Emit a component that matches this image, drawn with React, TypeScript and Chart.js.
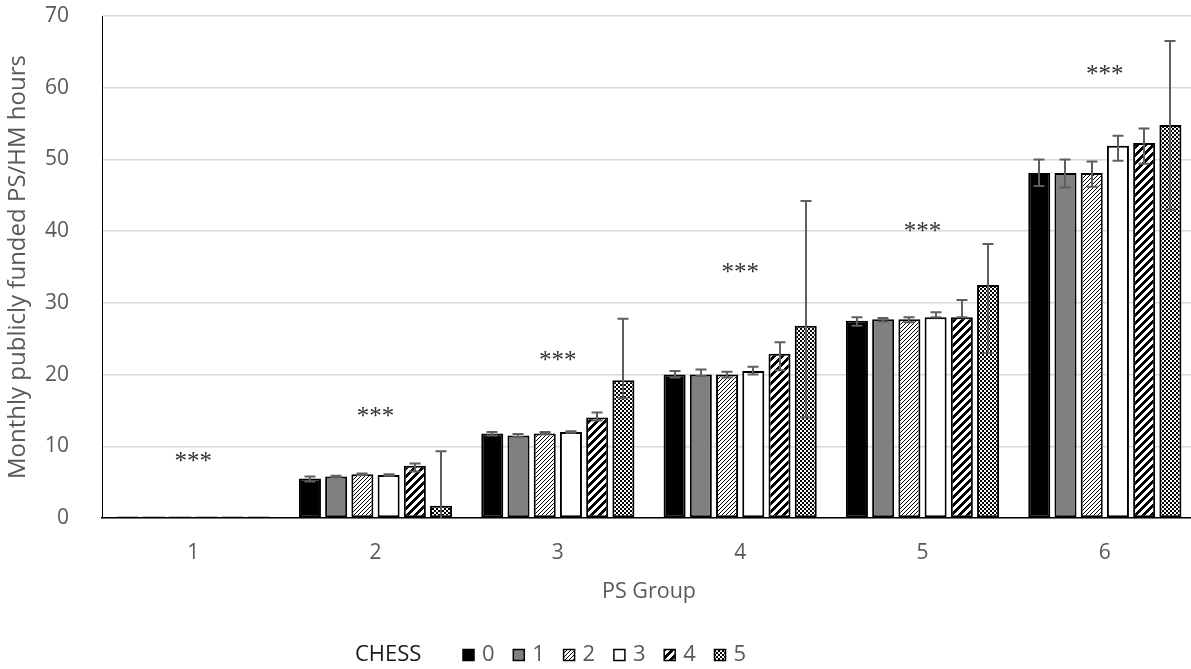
import { useEffect, useRef } from 'react';
import { Chart, registerables } from 'chart.js';

Chart.register(...registerables);

// PS groups on the x axis and CHESS levels as series
const psGroups = ['1', '2', '3', '4', '5', '6'];
const chessLevels = ['0', '1', '2', '3', '4', '5'];

// Mean monthly publicly funded PS/HM hours per CHESS level
const chess0 = [0.2, 5.5, 11.8, 20.0, 27.5, 48.1];
const chess1 = [0.2, 5.8, 11.5, 20.0, 27.7, 48.1];
const chess2 = [0.2, 6.1, 11.8, 20.0, 27.7, 48.1];
const chess3 = [0.2, 6.0, 12.0, 20.5, 28.0, 51.9];
const chess4 = [0.2, 7.3, 14.0, 22.9, 28.0, 52.3];
const chess5 = [0.2, 1.7, 19.2, 26.8, 32.5, 54.8];

// Upper / lower ends of the error bars (null = no bar)
const chess0Upper = [null, 5.8, 12.0, 20.5, 28.0, 50.0];
const chess0Lower = [null, 5.1, 11.5, 19.6, 26.8, 46.3];
const chess1Upper = [null, 5.9, 11.7, 20.7, 27.9, 50.0];
const chess1Lower = [null, 5.7, 11.3, 19.8, 27.4, 46.1];
const chess2Upper = [null, 6.2, 12.0, 20.4, 28.0, 49.7];
const chess2Lower = [null, 6.0, 11.7, 19.6, 27.3, 46.2];
const chess3Upper = [null, 6.1, 12.1, 21.1, 28.7, 53.3];
const chess3Lower = [null, 5.9, 11.9, 20.0, 28.0, 49.8];
const chess4Upper = [null, 7.6, 14.7, 24.5, 30.4, 54.3];
const chess4Lower = [null, 6.5, 13.6, 20.6, 28.0, 49.4];
const chess5Upper = [null, 9.3, 27.8, 44.2, 38.2, 66.5];
const chess5Lower = [null, -4.2, 16.7, 14.0, 23.0, 43.0];

// Significance markers above each group
const significance = ['***', '***', '***', '***', '***', '***'];
const significanceY = [8.3, 14.6, 22.4, 34.7, 40.5, 62.4];

const yTicksMax = 70;
const yTicksStep = 10;

const seriesValues = [chess0, chess1, chess2, chess3, chess4, chess5];
const seriesUpper = [chess0Upper, chess1Upper, chess2Upper, chess3Upper, chess4Upper, chess5Upper];
const seriesLower = [chess0Lower, chess1Lower, chess2Lower, chess3Lower, chess4Lower, chess5Lower];

const FONT = '"Open Sans", "Liberation Sans", sans-serif';
const TEXT = '#595959';

type Fill = string | CanvasPattern;

function pixelPattern(size: number, isDark: (x: number, y: number) => boolean): CanvasPattern | string {
  const c = document.createElement('canvas');
  c.width = size;
  c.height = size;
  const g = c.getContext('2d');
  if (!g) return '#ffffff';
  const img = g.createImageData(size, size);
  for (let y = 0; y < size; y++) {
    for (let x = 0; x < size; x++) {
      const v = isDark(x, y) ? 0 : 255;
      const k = (y * size + x) * 4;
      img.data[k] = v;
      img.data[k + 1] = v;
      img.data[k + 2] = v;
      img.data[k + 3] = 255;
    }
  }
  g.putImageData(img, 0, 0);
  return g.createPattern(c, 'repeat') || '#ffffff';
}

function makeFills(): Fill[] {
  return [
    '#000000',
    '#808080',
    pixelPattern(4, (x, y) => (x + y) % 4 === 0),
    '#ffffff',
    pixelPattern(8, (x, y) => (x + y) % 8 < 4),
    pixelPattern(4, (x, y) => (((x >> 1) + (y >> 1)) & 1) === 0),
  ];
}

const errorBarPlugin = {
  id: 'errorBars',
  afterDatasetsDraw(chart: any) {
    const { ctx, chartArea, scales } = chart;
    const y = scales.y;
    ctx.save();
    ctx.beginPath();
    ctx.rect(chartArea.left, chartArea.top, chartArea.right - chartArea.left, chartArea.bottom - chartArea.top);
    ctx.clip();
    ctx.strokeStyle = '#5f5f5f';
    ctx.lineWidth = 2;
    const cap = 5.5;
    chart.data.datasets.forEach((_: any, di: number) => {
      const meta = chart.getDatasetMeta(di);
      meta.data.forEach((bar: any, i: number) => {
        const hi = seriesUpper[di][i];
        const lo = seriesLower[di][i];
        if (hi == null || lo == null) return;
        const x = Math.round(bar.x);
        const yHi = y.getPixelForValue(hi);
        const yLo = y.getPixelForValue(lo);
        ctx.beginPath();
        ctx.moveTo(x, yHi);
        ctx.lineTo(x, yLo);
        ctx.moveTo(x - cap, yHi);
        ctx.lineTo(x + cap, yHi);
        ctx.moveTo(x - cap, yLo);
        ctx.lineTo(x + cap, yLo);
        ctx.stroke();
      });
    });
    ctx.restore();

    // significance stars (baseline set so the glyphs centre on the value)
    ctx.save();
    ctx.fillStyle = '#333333';
    ctx.font = '25px "Liberation Serif", "DejaVu Serif", serif';
    ctx.textAlign = 'center';
    ctx.textBaseline = 'alphabetic';
    significance.forEach((s, i) => {
      ctx.fillText(s, scales.x.getPixelForValue(i), y.getPixelForValue(significanceY[i]) + 11);
    });
    ctx.restore();
  },
};

const legendPlugin = {
  id: 'chessLegend',
  afterDraw(chart: any) {
    const { ctx } = chart;
    const cy = 655;
    let x = 355;
    ctx.save();
    ctx.font = `22px ${FONT}`;
    ctx.textBaseline = 'middle';
    ctx.textAlign = 'left';
    ctx.fillStyle = '#1a1a1a';
    ctx.fillText('CHESS', x, cy);
    x = 463;
    chart.data.datasets.forEach((ds: any) => {
      const box = 11;
      ctx.fillStyle = ds.backgroundColor;
      ctx.fillRect(x, cy - box / 2, box, box);
      ctx.strokeStyle = '#000000';
      ctx.lineWidth = 1.5;
      ctx.strokeRect(x, cy - box / 2, box, box);
      ctx.fillStyle = TEXT;
      ctx.fillText(ds.label, x + box + 8, cy);
      x += 50.3;
    });
    ctx.restore();
  },
};

export default function App() {
  const canvasRef = useRef<HTMLCanvasElement | null>(null);

  useEffect(() => {
    const canvas = canvasRef.current;
    if (!canvas) return;
    const fills = makeFills();
    const chart = new Chart(canvas, {
      type: 'bar',
      data: {
        labels: psGroups,
        datasets: chessLevels.map((lvl, i) => ({
          label: lvl,
          data: seriesValues[i],
          backgroundColor: fills[i] as any,
          borderColor: '#000000',
          borderWidth: 2,
          borderSkipped: false,
          categoryPercentage: 0.863,
          barPercentage: 0.84,
        })),
      },
      options: {
        responsive: false,
        animation: false,
        devicePixelRatio: 1,
        layout: { padding: { top: 16, left: 0, right: 0, bottom: 0 } },
        plugins: {
          legend: { display: false },
          tooltip: { enabled: false },
        },
        scales: {
          x: {
            grid: { display: false, drawTicks: false },
            border: { display: true, color: '#000000', width: 1.5 },
            ticks: { color: TEXT, font: { family: FONT, size: 21 }, padding: 22 },
            title: {
              display: true,
              text: 'PS Group',
              color: TEXT,
              font: { family: FONT, size: 21.5 },
              padding: { top: 0, bottom: 64 },
            },
            afterFit(scale: any) {
              scale.height = 151;
              scale.paddingLeft = 0;
              scale.paddingRight = 0;
            },
          },
          y: {
            min: 0,
            max: yTicksMax,
            grid: { color: '#d9d9d9', lineWidth: 1.5, drawTicks: false },
            border: { display: true, color: '#000000', width: 1 },
            ticks: {
              stepSize: yTicksStep,
              color: TEXT,
              font: { family: FONT, size: 21 },
              padding: 33,
            },
            title: {
              display: true,
              text: 'Monthly publicly funded PS/HM hours',
              color: TEXT,
              font: { family: FONT, size: 24 },
              padding: { top: 4, bottom: 0 },
            },
            afterFit(scale: any) {
              scale.width = 102;
              scale.paddingTop = 0;
              scale.paddingBottom = 0;
            },
          },
        },
      },
      plugins: [errorBarPlugin, legendPlugin],
    });
    return () => chart.destroy();
  }, []);

  return (
    <div
      style={{
        position: 'absolute',
        left: 0,
        top: 0,
        width: 1191,
        height: 669,
        overflow: 'hidden',
        background: '#ffffff',
      }}
    >
      <canvas ref={canvasRef} width={1196} height={669} style={{ display: 'block', width: 1196, height: 669 }} />
    </div>
  );
}
